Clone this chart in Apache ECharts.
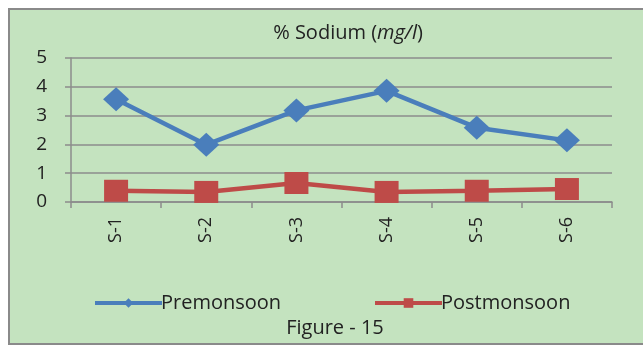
<!DOCTYPE html>
<html>
<head>
<meta charset="utf-8">
<style>
  html, body { margin: 0; padding: 0; background: #ffffff; }
  #chart { width: 643px; height: 347px; }
</style>
<script src="https://cdn.jsdelivr.net/npm/echarts@6/dist/echarts.min.js"></script>
</head>
<body>
<div id="chart"></div>
<script>
// Sampling stations
const stations = ['S-1', 'S-2', 'S-3', 'S-4', 'S-5', 'S-6'];
// % Sodium readings (mg/l)
const premonsoon = [3.57, 1.99, 3.18, 3.86, 2.58, 2.14];
const postmonsoon = [0.39, 0.35, 0.66, 0.35, 0.39, 0.45];
// Value axis ticks
const yTicks = [0, 1, 2, 3, 4, 5];

const FONT = '"Open Sans", Lato, sans-serif';
const TEXT = '#222222';
const BLUE = '#4a7ebb';
const RED = '#be4b48';
const GRID = '#8c8c8c';

const legendBase = {
  top: 288,
  itemWidth: 67,
  itemHeight: 12,
  itemGap: 0,
  lineStyle: { width: 4 },
  textStyle: { fontFamily: FONT, fontSize: 20, color: TEXT, padding: [0, 0, 0, -6] }
};

const chart = echarts.init(document.getElementById('chart'), null, { renderer: 'canvas' });

chart.setOption({
  backgroundColor: '#ffffff',
  animation: false,
  graphic: [
    {
      type: 'rect',
      z: -10,
      shape: { x: 9, y: 9, width: 660, height: 335 },
      style: { fill: '#c4e3bf', stroke: '#8a8a8a', lineWidth: 2 }
    },
    {
      type: 'text',
      x: 335,
      y: 328,
      style: {
        text: 'Figure - 15', fontFamily: FONT, fontSize: 20, fill: TEXT,
        align: 'center', verticalAlign: 'middle'
      }
    }
  ],
  title: {
    text: '{n|% Sodium (}{i|mg/l}{n|)}',
    left: 343,
    textAlign: 'center',
    top: 18,
    textStyle: {
      fontWeight: 'normal',
      rich: {
        n: { fontFamily: FONT, fontSize: 20, color: TEXT, fontWeight: 'normal' },
        i: { fontFamily: FONT, fontSize: 20, color: TEXT, fontWeight: 'normal', fontStyle: 'italic' }
      }
    }
  },
  legend: [
    Object.assign({}, legendBase, { left: 88, data: ['Premonsoon'] }),
    Object.assign({}, legendBase, { left: 368, data: ['Postmonsoon'] })
  ],
  grid: { left: 71, right: 31, top: 58, bottom: 145 },
  xAxis: {
    type: 'category',
    data: stations,
    boundaryGap: true,
    axisLine: { lineStyle: { color: GRID, width: 1.5 } },
    axisTick: { show: true, length: 6, lineStyle: { color: GRID, width: 1.5 } },
    axisLabel: {
      rotate: 90,
      margin: 15,
      fontFamily: FONT,
      fontSize: 18,
      color: TEXT
    }
  },
  yAxis: {
    type: 'value',
    min: yTicks[0],
    max: yTicks[yTicks.length - 1],
    interval: 1,
    axisLine: { show: true, lineStyle: { color: GRID, width: 1.5 } },
    axisTick: { show: true, length: 6, lineStyle: { color: GRID, width: 1.5 } },
    splitLine: { lineStyle: { color: GRID, width: 1.5 } },
    axisLabel: {
      margin: 24,
      fontFamily: FONT,
      fontSize: 19,
      color: TEXT,
      formatter: v => yTicks.includes(v) ? String(v) : ''
    }
  },
  series: [
    {
      name: 'Premonsoon',
      type: 'line',
      data: premonsoon,
      symbol: 'diamond',
      symbolSize: [26, 24],
      lineStyle: { color: BLUE, width: 4.5 },
      itemStyle: { color: BLUE }
    },
    {
      name: 'Postmonsoon',
      type: 'line',
      data: postmonsoon,
      symbol: 'rect',
      symbolSize: [24, 22],
      lineStyle: { color: RED, width: 4.5 },
      itemStyle: { color: RED }
    }
  ]
});
</script>
</body>
</html>
